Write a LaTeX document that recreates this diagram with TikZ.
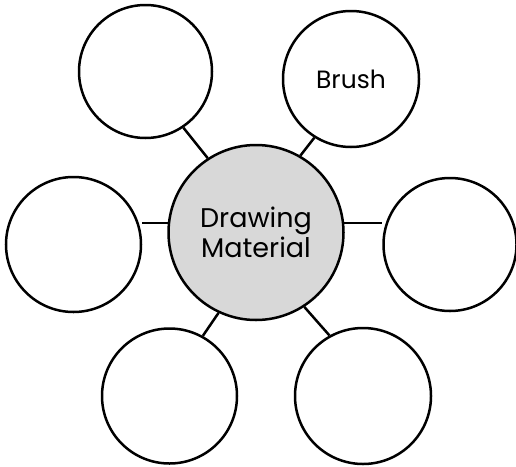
\documentclass[tikz,border=0pt]{standalone}
\usepackage{fontspec}
\setmainfont{Poppins}
\definecolor{hubgray}{RGB}{216,216,216}
\tikzset{
  bubble/.style={circle, draw=black, line width=2.5pt, fill=white, inner sep=0pt},
  hub/.style={circle, draw=black, line width=2.5pt, fill=hubgray, inner sep=0pt, minimum size=175pt, align=center, font=\fontsize{27}{30}\selectfont},
  link/.style={draw=black, line width=2.5pt},
}
\begin{document}
\begin{tikzpicture}[x=1pt,y=-1pt]
\useasboundingbox (0,0) rectangle (516,466);
\node[hub] (c) at (256,232.5) {Drawing\\Material};
\node[bubble, minimum size=133pt] (tl) at (145.5,71.5) {};
\node[bubble, minimum size=136pt, font=\fontsize{25}{30}\selectfont] (tr) at (351,79) {Brush};
\node[bubble, minimum size=135pt] (l) at (73.5,244.5) {};
\node[bubble, minimum size=133pt] (r) at (450,244.5) {};
\node[bubble, minimum size=135pt] (bl) at (169.5,396) {};
\node[bubble, minimum size=136pt] (br) at (363,396) {};
\draw[link] (tl.304) -- (c.123.7);
\draw[link] (tr.238) -- (c.60.5);
\draw[link] (c.174) -- (l.east |- c.174);
\draw[link] (c.6) -- (r.west |- c.6);
\draw[link] (bl.61.2) -- (c.245.9);
\draw[link] (br.119.2) -- (c.303);
\end{tikzpicture}
\end{document}
